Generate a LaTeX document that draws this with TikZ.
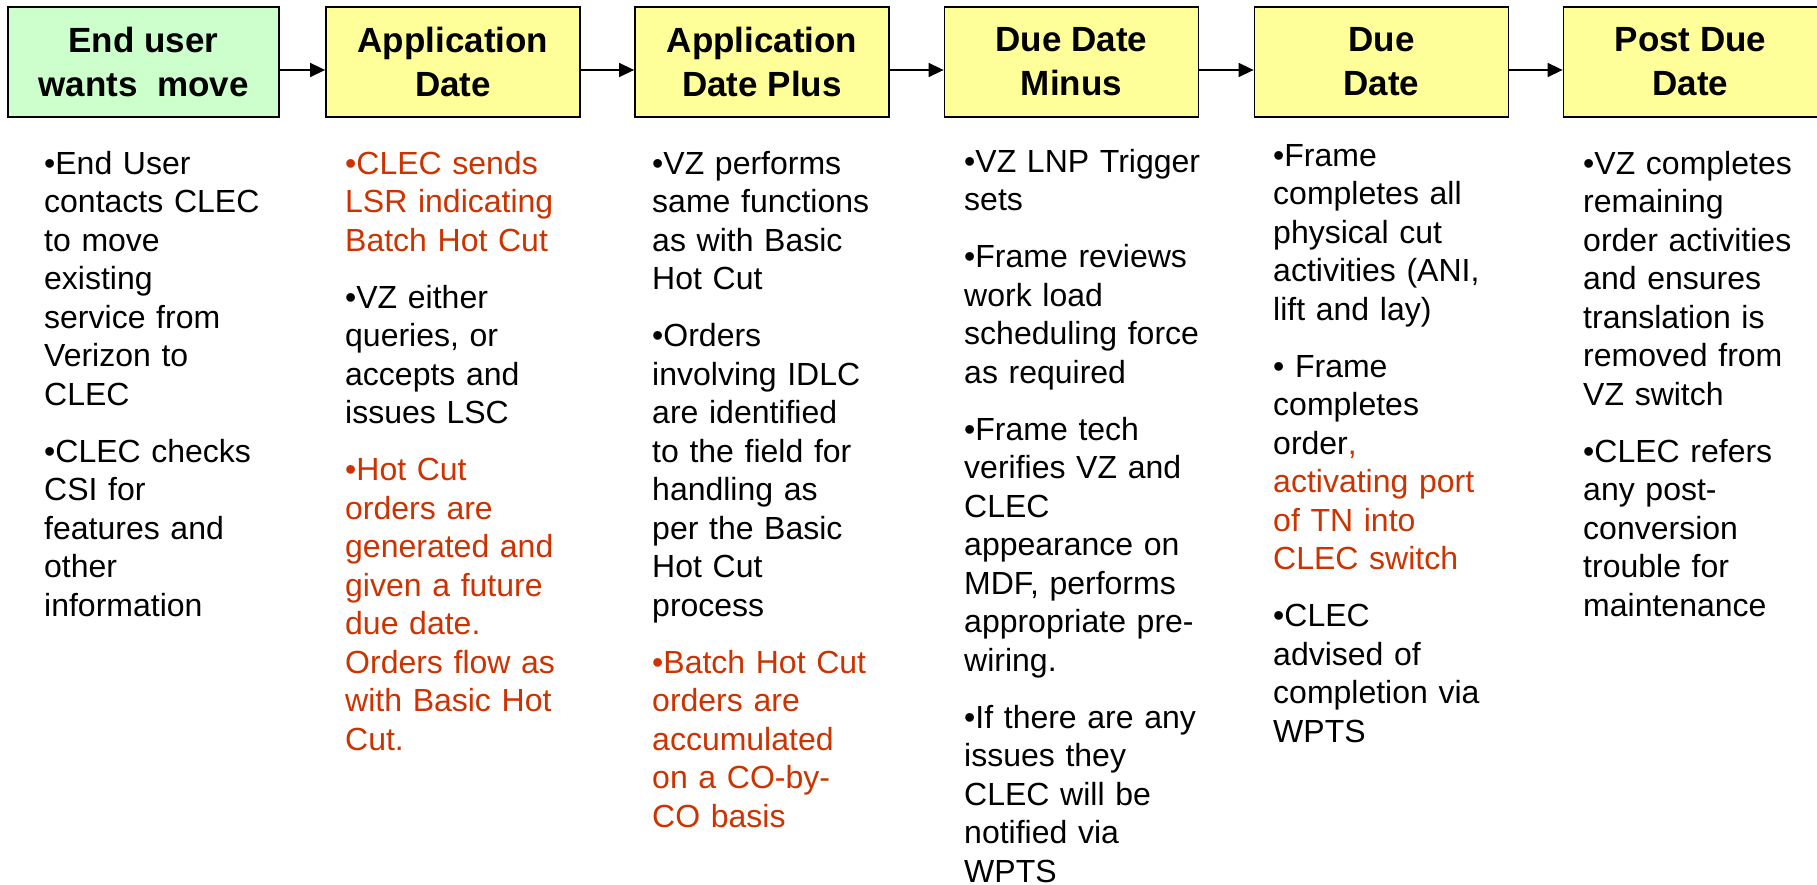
\documentclass[tikz,border=0pt]{standalone}
\usepackage{fontspec}
\setmainfont{Liberation Sans}
\usetikzlibrary{arrows.meta}
\definecolor{hcgreen}{RGB}{204,255,204}
\definecolor{hcyellow}{RGB}{255,255,153}
\definecolor{hcred}{RGB}{204,51,0}

\begin{document}
\begin{tikzpicture}[x=1pt, y=-1pt]
        \tikzstyle{every node} = [inner sep=0pt]
        \tikzstyle{stage} = [draw, line width=1.8pt, fill=hcyellow, minimum width=254pt, minimum height=110pt, align=center, font=\fontsize{35}{44}\selectfont\bfseries]
        \tikzstyle{notes} = [anchor=north west, text width=290pt, align=left, font=\fontsize{32}{38.5}\selectfont, execute at begin node={\setlength{\parindent}{0pt}\strut}]
        \tikzstyle{flow} = [line width=1.5pt, -{Triangle[length=15pt, width=14pt]}]

        \def\rowy{62}
        \def\noty{147}
        \def\sk{18.5pt}

        \useasboundingbox (0,0) rectangle (1817,885);

        % the six stages
        \node[stage, fill=hcgreen, minimum width=271pt] (user) at (143.5,\rowy) {End user\\wants~ move};
        \foreach \n/\cx/\t in {appdate/453/{Application\\Date}, appplus/762/{Application\\Date Plus},
                               ddminus/1071.5/{Due Date\\Minus}, duedate/1381.5/{Due\\Date}, postdue/1690.5/{Post Due\\Date}}
            \node[stage] (\n) at (\cx,\rowy) {\t};

        \foreach \a/\b in {user/appdate, appdate/appplus, appplus/ddminus, ddminus/duedate, duedate/postdue}
            \draw[flow] ([yshift=-8pt]\a.east) -- ([yshift=-8pt]\b.west);

        % notes under each stage
        \node[notes] (nuser) at (44,\noty) {•End User\\contacts CLEC\\to move\\existing\\service from\\Verizon to\\CLEC\\[\sk]
            •CLEC checks\\CSI for\\features and\\other\\information};
        \node[notes] (nappdate) at (345,\noty) {{\color{hcred}•CLEC sends\\LSR indicating\\Batch Hot Cut}\\[\sk]
            •VZ either\\queries, or\\accepts and\\issues LSC\\[\sk]
            {\color{hcred}•Hot Cut\\orders are\\generated and\\given a future\\due date.\\Orders flow as\\with Basic Hot\\Cut.}};
        \node[notes] (nappplus) at (652,\noty) {•VZ performs\\same functions\\as with Basic\\Hot Cut\\[\sk]
            •Orders\\involving IDLC\\are identified\\to the field for\\handling as\\per the Basic\\Hot Cut\\process\\[\sk]
            {\color{hcred}•Batch Hot Cut\\orders are\\accumulated\\on a CO-by-\\CO basis}};
        \node[notes] (nddminus) at (964,145) {•VZ LNP Trigger\\sets\\[\sk]
            •Frame reviews\\work load\\scheduling force\\as required\\[\sk]
            •Frame tech\\verifies VZ and\\CLEC\\appearance on\\MDF, performs\\appropriate pre-\\wiring.\\[\sk]
            •If there are any\\issues they\\CLEC will be\\notified via\\WPTS};
        \node[notes] (nduedate) at (1273,139) {•Frame\\completes all\\physical cut\\activities (ANI,\\lift and lay)\\[\sk]
            • Frame\\completes\\order{\color{hcred},\\activating port\\of TN into\\CLEC switch}\\[\sk]
            •CLEC\\advised of\\completion via\\WPTS};
        \node[notes] (npostdue) at (1583,\noty) {•VZ completes\\remaining\\order activities\\and ensures\\translation is\\removed from\\VZ switch\\[\sk]
            •CLEC refers\\any post-\\conversion\\trouble for\\maintenance};
\end{tikzpicture}
\end{document}
